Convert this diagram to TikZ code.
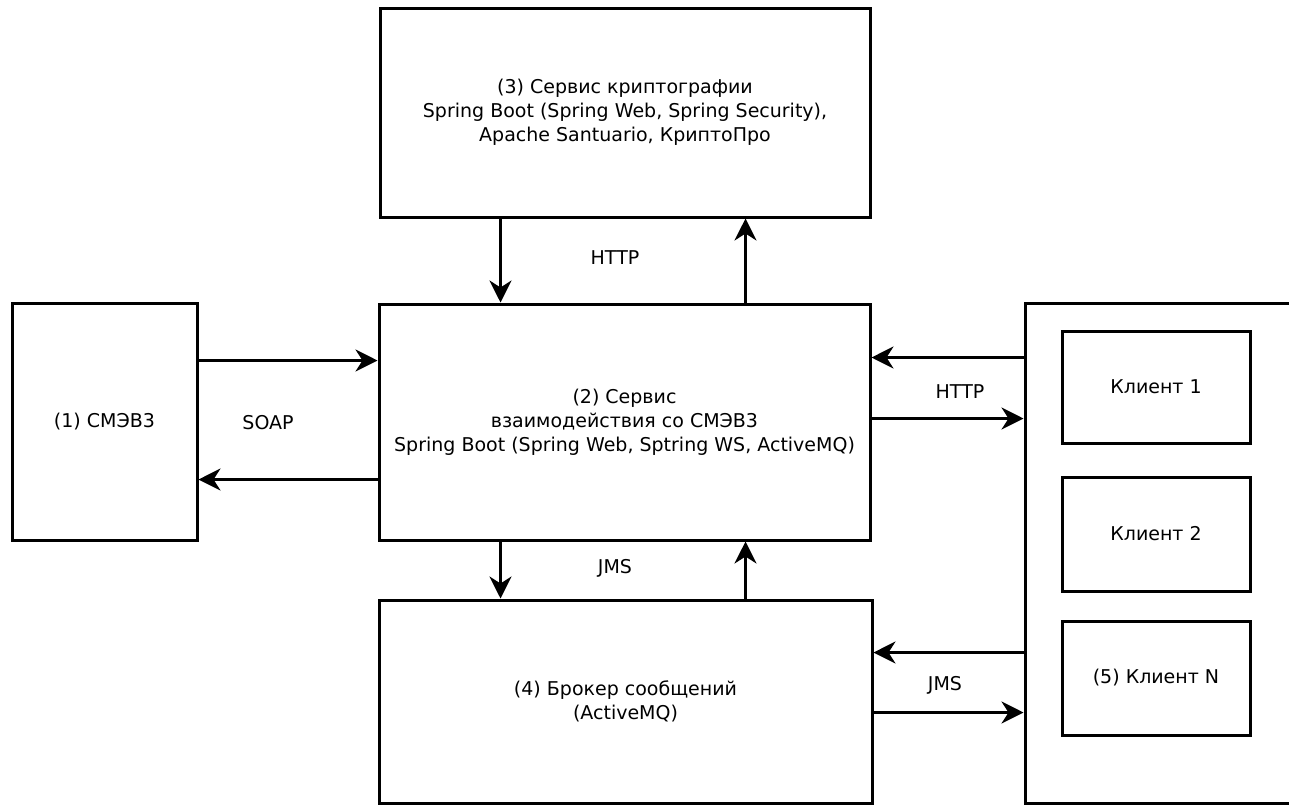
\documentclass[tikz,border=0pt]{standalone}
\usepackage{fontspec}
\setmainfont{DejaVu Sans}
\usetikzlibrary{arrows.meta,calc}
\begin{document}
\begin{tikzpicture}[x=1pt,y=-1pt,
  box/.style={draw,line width=3pt,rectangle,inner sep=0pt,align=center,font=\fontsize{19}{24}\selectfont},
  arr/.style={line width=3pt,-{Stealth[length=22pt,width=22pt,inset=7pt]}},
  lbl/.style={font=\fontsize{19}{22}\selectfont,inner sep=0pt}]
\useasboundingbox (0,0) rectangle (1289,804);
\clip (0,0) rectangle (1289,804);
\fill[white] (0,0) rectangle (1289,804);

\node[box,minimum width=490pt,minimum height=209pt] (crypto) at (625,112.5)
  {(3) Сервис криптографии\\Spring Boot (Spring Web, Spring Security),\\Apache Santuario, КриптоПро};
\node[box,minimum width=491pt,minimum height=236pt] (core) at (624.5,422)
  {(2) Сервис\\взаимодействия со СМЭВ3\\Spring Boot (Spring Web, Sptring WS, ActiveMQ)};
\node[box,minimum width=185pt,minimum height=237pt] (smev) at (104.5,421.5) {(1) СМЭВ3};
\node[box,minimum width=493pt,minimum height=203pt] (broker) at (625.5,701.5)
  {(4) Брокер сообщений\\(ActiveMQ)};
\node[box,minimum width=275pt,minimum height=500pt] (clients) at (1162.5,553) {};
\node[box,minimum width=188pt,minimum height=112pt] (c1) at (1156,387) {Клиент 1};
\node[box,minimum width=188pt,minimum height=114pt] (c2) at (1156,534) {Клиент 2};
\node[box,minimum width=188pt,minimum height=114pt] (cn) at (1156,678) {(5) Клиент N};

\draw[arr] ($(crypto.south west)+(122,0)$) -- ($(core.north west)+(123,0)$);
\draw[arr] ($(core.north west)+(368,0)$) -- ($(crypto.south west)+(367,0)$);
\draw[arr] ($(smev.north east)+(0,59)$) -- ($(core.north west)+(0,58)$);
\draw[arr] ($(core.north west)+(0,177)$) -- ($(smev.north east)+(0,178)$);
\draw[arr] ($(clients.north west)+(0,56)$) -- ($(core.north east)+(0,55)$);
\draw[arr] ($(core.north east)+(0,116)$) -- ($(clients.north west)+(0,117)$);
\draw[arr] ($(core.south west)+(123,0)$) -- ($(broker.north west)+(123,0)$);
\draw[arr] ($(broker.north west)+(368,0)$) -- ($(core.south west)+(368,0)$);
\draw[arr] ($(clients.north west)+(0,351)$) -- ($(broker.north east)+(0,54)$);
\draw[arr] ($(broker.north east)+(0,114)$) -- ($(clients.north west)+(0,411)$);

\node[lbl] (lhttp1) at (615,258) {HTTP};
\node[lbl] (lsoap) at (268,423) {SOAP};
\node[lbl] (lhttp2) at (960,392) {HTTP};
\node[lbl] (ljms1) at (615,568) {JMS};
\node[lbl] (ljms2) at (945,685) {JMS};
\end{tikzpicture}
\end{document}
